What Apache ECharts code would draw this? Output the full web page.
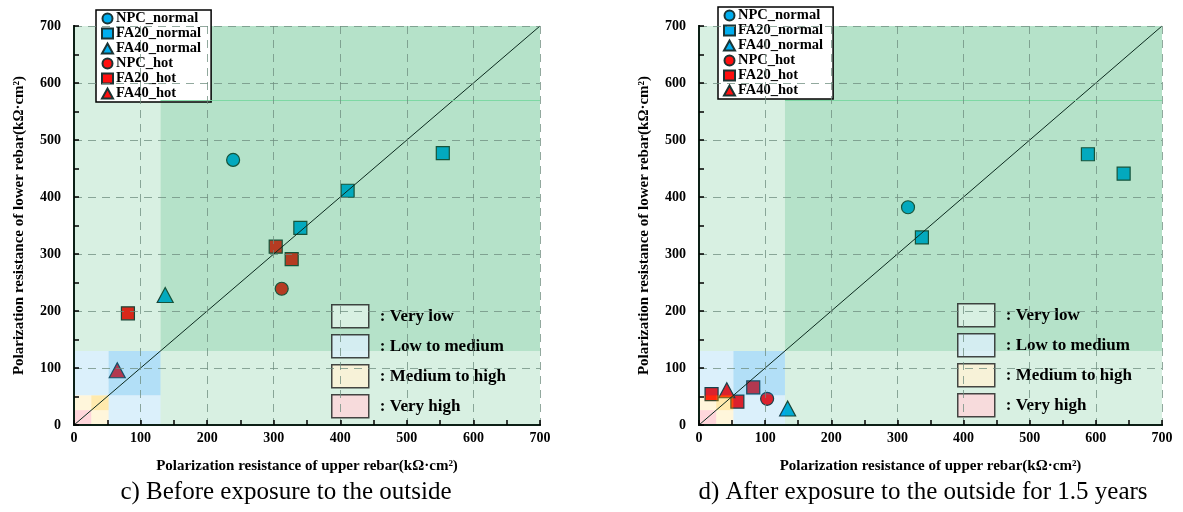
<!DOCTYPE html>
<html>
<head>
<meta charset="utf-8">
<script src="https://cdn.jsdelivr.net/npm/echarts@6/dist/echarts.min.js"></script>
<style>
  html, body { margin: 0; padding: 0; background: #fff; }
  #chart { width: 1183px; height: 512px; }
</style>
</head>
<body>
<div id="chart"></div>
<script>
// axis range (kΩ·cm²)
const axisMin = 0
const axisMax = 700
const axisStep = 100

// corrosion level bounds and names (lowest resistance first)
const levelBounds = [0, 26, 52, 130, 700]
const levelNames = ['Very high', 'Medium to high', 'Low to medium', 'Very low']

// c) before exposure  [upper, lower]
const beforeNpcNormal = [[239, 465]]
const beforeFa20Normal = [[554, 477], [411, 411], [340, 346]]
const beforeFa40Normal = [[137, 228]]
const beforeNpcHot = [[312, 239]]
const beforeFa20Hot = [[303, 313], [327, 291], [81, 196]]
const beforeFa40Hot = [[65, 96]]

// d) after 1.5 years
const afterNpcNormal = [[316, 382]]
const afterFa20Normal = [[337, 329], [588, 475], [642, 441]]
const afterFa40Normal = [[134, 29]]
const afterNpcHot = [[103, 46]]
const afterFa20Hot = [[19, 54], [58, 41], [82, 66]]
const afterFa40Hot = [[42, 61]]

const serif = 'Liberation Serif'
const cyan = '#00AEEF'
const red = '#FF1010'
const edge = '#1c3434'

// overlay tints per level: [light, dark]
const tints = [
	['rgba(255,90,110,0.25)', 'rgba(255,90,110,0.25)'],
	['rgba(255,190,0,0.14)', 'rgba(255,190,0,0.32)'],
	['rgba(0,150,230,0.14)', 'rgba(0,150,230,0.30)'],
	['rgba(10,160,75,0.16)', 'rgba(10,160,75,0.30)'],
]
const swatch = ['#FFD6DB', '#FFF3D6', '#DCF0FB', '#E1F4E8']

const chart = echarts.init(document.getElementById('chart'))

const zoneAreas = (k) => {
	const lo = levelBounds[k]
	const hi = levelBounds[k + 1]
	const areas = [[{ coord: [lo, lo], itemStyle: { color: tints[k][1] } }, { coord: [hi, hi] }]]
	if (lo > 0) {
		areas.push([{ coord: [axisMin, lo], itemStyle: { color: tints[k][0] } }, { coord: [lo, hi] }])
		areas.push([{ coord: [lo, axisMin], itemStyle: { color: tints[k][0] } }, { coord: [hi, lo] }])
	}
	return areas
}

const pointSeries = [
	{ name: 'NPC_normal', symbol: 'circle', size: 13, color: cyan },
	{ name: 'FA20_normal', symbol: 'rect', size: 13, color: cyan },
	{ name: 'FA40_normal', symbol: 'triangle', size: [16, 15], color: cyan },
	{ name: 'NPC_hot', symbol: 'circle', size: 13, color: red },
	{ name: 'FA20_hot', symbol: 'rect', size: 13, color: red },
	{ name: 'FA40_hot', symbol: 'triangle', size: [16, 15], color: red },
]

const panels = [
	[beforeNpcNormal, beforeFa20Normal, beforeFa40Normal, beforeNpcHot, beforeFa20Hot, beforeFa40Hot],
	[afterNpcNormal, afterFa20Normal, afterFa40Normal, afterNpcHot, afterFa20Hot, afterFa40Hot],
]

const series = []
panels.forEach((sets, g) => {
	pointSeries.forEach((p, i) => {
		series.push({
			name: p.name,
			type: 'scatter',
			xAxisIndex: g * 2,
			yAxisIndex: g * 2,
			symbol: p.symbol,
			symbolSize: p.size,
			z: 2,
			itemStyle: { color: p.color, borderColor: edge, borderWidth: 1.2, opacity: 1 },
			data: sets[i],
		})
	})
	// zone tints sit over the markers, like the original
	levelNames.forEach((name, k) => {
		series.push({
			name: name,
			type: 'scatter',
			xAxisIndex: g * 2,
			yAxisIndex: g * 2,
			z: 3,
			silent: true,
			data: [],
			itemStyle: { color: swatch[k] },
			markArea: { silent: true, z: 3, data: zoneAreas(k) },
		})
	})
	// y = x reference line and the faint seam in the green region
	series.push({
		type: 'line',
		xAxisIndex: g * 2,
		yAxisIndex: g * 2,
		z: 4,
		silent: true,
		data: [],
		markLine: {
			silent: true,
			z: 4,
			symbol: 'none',
			label: { show: false },
			data: [
				[{ coord: [axisMin, axisMin], lineStyle: { color: '#0b2a1e', width: 1, type: 'solid' } }, { coord: [axisMax, axisMax] }],
				[{ coord: [levelBounds[3], 570], lineStyle: { color: 'rgba(120,215,160,0.9)', width: 1, type: 'solid' } }, { coord: [axisMax, 570] }],
			],
		},
	})
})

const grids = [
	{ left: 74, top: 26, width: 466, height: 399 },
	{ left: 699, top: 26, width: 463, height: 399 },
]

const tickFont = { fontFamily: serif, fontWeight: 'bold', fontSize: 14, color: '#000' }
const nameFont = { fontFamily: serif, fontWeight: 'bold', fontSize: 15, color: '#000' }

const mainAxis = (g, isX) => ({
	gridIndex: g,
	type: 'value',
	min: axisMin,
	max: axisMax,
	interval: axisStep,
	z: 5,
	name: isX ? 'Polarization resistance of upper rebar(kΩ·cm²)' : 'Polarization resistance of lower rebar(kΩ·cm²)',
	nameLocation: 'middle',
	nameGap: isX ? 34 : 47,
	nameTextStyle: nameFont,
	axisLine: { show: true, lineStyle: { color: '#000', width: 2 } },
	axisTick: { show: true, inside: true, length: 5, lineStyle: { color: '#000', width: 1.5 } },
	minorTick: { show: true, splitNumber: 2, length: 5, lineStyle: { color: '#000', width: 1.5 } },
	axisLabel: Object.assign({ margin: isX ? 6 : 13 }, tickFont),
	splitLine: { show: true, lineStyle: { color: 'rgba(110,140,125,0.75)', width: 1, type: [8, 6] } },
})

const frameAxis = (g, pos) => ({
	gridIndex: g,
	type: 'value',
	position: pos,
	min: axisMin,
	max: axisMax,
	z: 5,
	axisLine: { show: true, lineStyle: { color: '#0c2016', width: 2 } },
	axisTick: { show: false },
	axisLabel: { show: false },
	splitLine: { show: false },
})

const xAxis = []
const yAxis = []
grids.forEach((_, g) => {
	xAxis.push(mainAxis(g, true), frameAxis(g, 'top'))
	yAxis.push(mainAxis(g, false), frameAxis(g, 'right'))
})

const markerLegend = (left, top) => ({
	orient: 'vertical',
	left: left,
	top: top,
	itemWidth: 11,
	itemHeight: 10,
	itemGap: 0,
	padding: [1, 10, 1, 5],
	backgroundColor: '#fff',
	borderColor: '#000',
	borderWidth: 1.5,
	selectedMode: false,
	textStyle: { fontFamily: serif, fontWeight: 'bold', fontSize: 14.5, color: '#000', lineHeight: 13, height: 13, padding: [0, 0, 0, -2] },
	data: pointSeries.map((p) => p.name),
})

const zoneLegend = (left, top) => ({
	orient: 'vertical',
	left: left,
	top: top,
	icon: 'rect',
	itemWidth: 37,
	itemHeight: 23,
	itemGap: 5.5,
	padding: 0,
	selectedMode: false,
	formatter: ': {name}',
	textStyle: { fontFamily: serif, fontWeight: 'bold', fontSize: 17, color: '#000', padding: [0, 0, 0, 6] },
	data: levelNames.slice().reverse().map((name) => ({
		name: name,
		itemStyle: { color: swatch[levelNames.indexOf(name)], borderColor: '#1a1a1a', borderWidth: 1.5 },
	})),
})

const option = {
	animation: false,
	backgroundColor: '#fff',
	title: [
		{ text: 'c) Before exposure to the outside', left: 281, top: 475, textAlign: 'center', textStyle: { fontFamily: serif, fontWeight: 'normal', fontSize: 25, color: '#000' } },
		{ text: 'd) After exposure to the outside for 1.5 years', left: 918, top: 475, textAlign: 'center', textStyle: { fontFamily: serif, fontWeight: 'normal', fontSize: 25, color: '#000' } },
	],
	legend: [
		markerLegend(96, 10),
		markerLegend(718, 7),
		zoneLegend(331, 304),
		zoneLegend(957, 303),
	],
	grid: grids,
	xAxis: xAxis,
	yAxis: yAxis,
	series: series,
}

chart.setOption(option)
</script>
</body>
</html>
